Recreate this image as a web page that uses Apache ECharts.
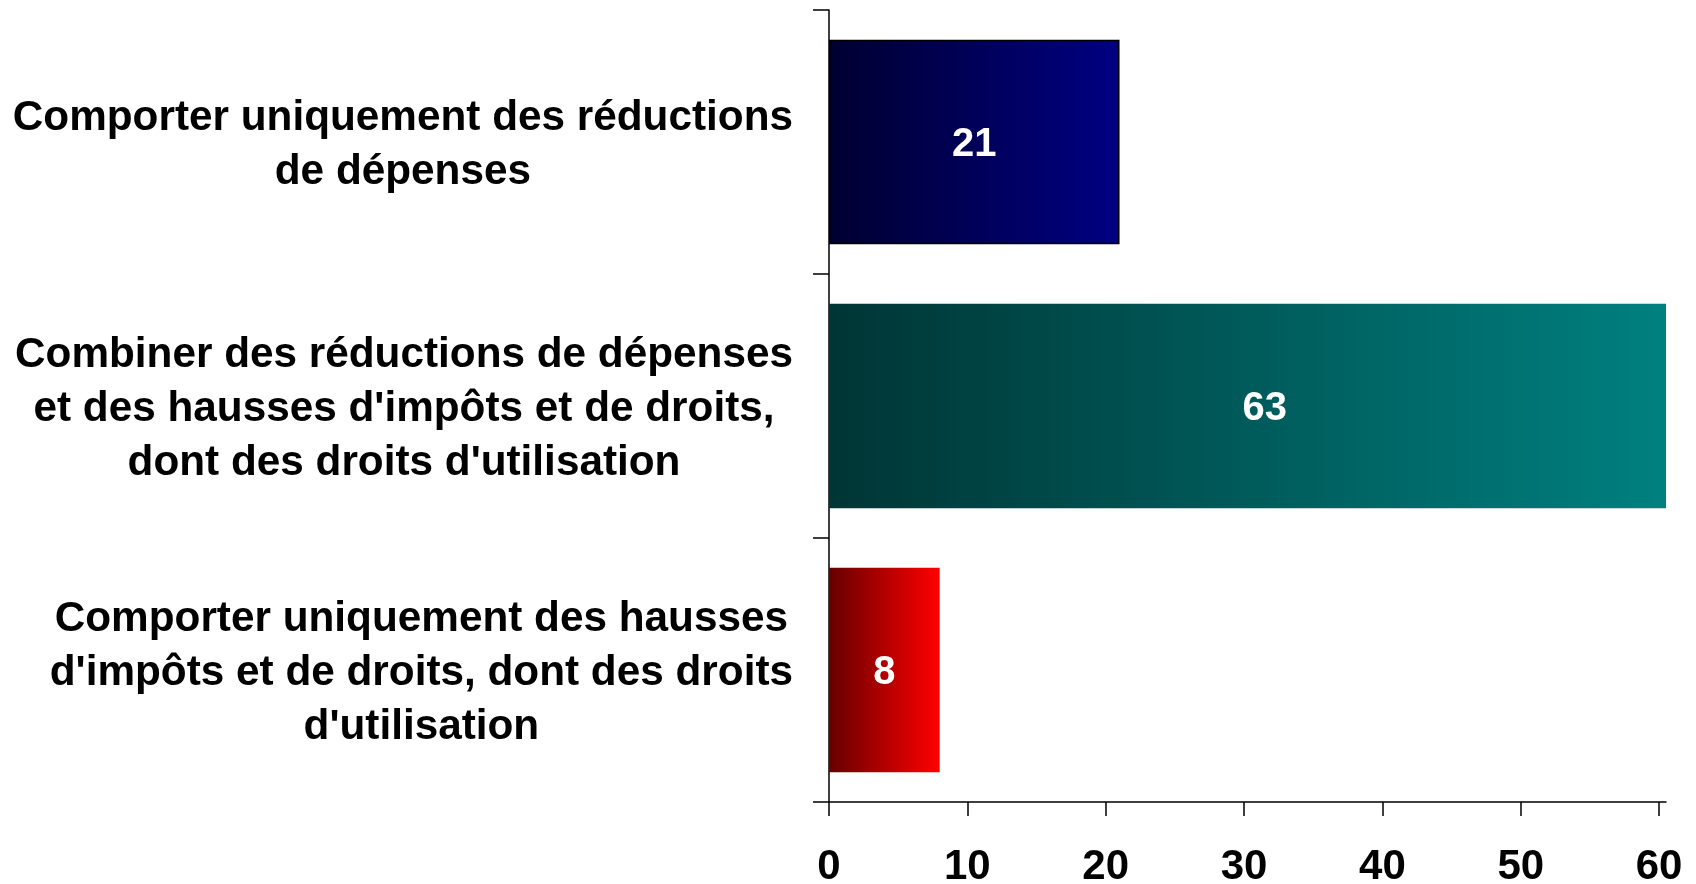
<!DOCTYPE html>
<html>
<head>
<meta charset="utf-8">
<script src="https://cdn.jsdelivr.net/npm/echarts@6/dist/echarts.min.js"></script>
<style>
html,body{margin:0;padding:0;background:#fff;}
#chart{width:1696px;height:884px;}
</style>
</head>
<body>
<div id="chart"></div>
<script>
const categories = [
  "Comporter uniquement des réductions\nde dépenses",
  "Combiner des réductions de dépenses\net des hausses d'impôts et de droits,\ndont des droits d'utilisation",
  "Comporter uniquement des hausses\nd'impôts et de droits, dont des droits\nd'utilisation"
];
const values = [21, 63, 8];
const xTicks = [0, 10, 20, 30, 40, 50, 60];
const barColors = [
  ["#000030", "#000082"],
  ["#003535", "#008080"],
  ["#660000", "#ff0000"]
];

const FONT = "'Liberation Sans', Arial, sans-serif";
const AXIS_MAX = 60.5;
const LABEL_DY = 3;
const chart = echarts.init(document.getElementById('chart'), null, {renderer: 'canvas'});

function buildData(offsets) {
  return values.map((v, i) => ({
    value: v,
    label: {offset: [offsets[i], LABEL_DY]},
    itemStyle: {
      color: new echarts.graphic.LinearGradient(0, 0, 1, 0, [
        {offset: 0, color: barColors[i][0]},
        {offset: 1, color: barColors[i][1]}
      ]),
      borderColor: i === 0 ? '#000' : 'transparent',
      borderWidth: i === 0 ? 1.5 : 0
    }
  }));
}

chart.setOption({
  animation: false,
  backgroundColor: '#fff',
  grid: {left: 829, right: 30, top: 10, bottom: 82, containLabel: false, outerBoundsMode: 'none'},
  xAxis: {
    type: 'value',
    min: 0,
    max: AXIS_MAX,
    interval: 10,
    splitLine: {show: false},
    axisLine: {show: true, lineStyle: {color: '#000', width: 1.5}},
    axisTick: {show: true, length: 14, lineStyle: {color: '#000', width: 1.5}, customValues: xTicks},
    axisLabel: {
      customValues: xTicks,
      margin: 44,
      color: '#000',
      fontFamily: FONT,
      fontWeight: 'bold',
      fontSize: 42
    }
  },
  yAxis: {
    type: 'category',
    inverse: true,
    data: categories,
    axisLine: {show: true, lineStyle: {color: '#000', width: 1.5}},
    axisTick: {show: true, length: 16, alignWithLabel: false, lineStyle: {color: '#000', width: 1.5}},
    axisLabel: {
      margin: 36,
      align: 'right',
      padding: [6, 0, 0, 0],
      formatter: function (v) {
        return v.split('\n').map(l => '{c|' + l + '}').join('\n');
      },
      rich: {
        c: {
          align: 'center',
          color: '#000',
          fontFamily: FONT,
          fontWeight: 'bold',
          fontSize: 42.3,
          lineHeight: 54
        }
      }
    }
  },
  series: [{
    type: 'bar',
    data: buildData(values.map(() => 0)),
    barWidth: '77.5%',
    clip: true,
    label: {
      show: true,
      position: 'inside',
      color: '#fff',
      fontFamily: FONT,
      fontWeight: 'bold',
      fontSize: 40
    }
  }]
});

// Bars longer than the axis are clipped; keep their label centred on the full value (as in the original).
const offsets = values.map(v => {
  if (v <= AXIS_MAX) return 0;
  const fullMid = chart.convertToPixel({xAxisIndex: 0}, v / 2);
  const clipMid = (chart.convertToPixel({xAxisIndex: 0}, 0) + chart.convertToPixel({xAxisIndex: 0}, AXIS_MAX)) / 2;
  return fullMid - clipMid;
});
chart.setOption({series: [{data: buildData(offsets)}]});
</script>
</body>
</html>
